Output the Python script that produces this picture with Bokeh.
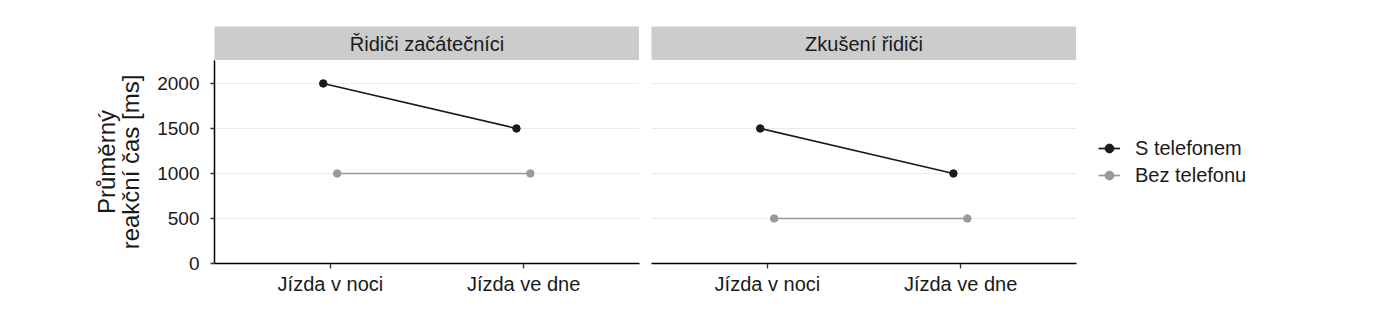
from bokeh.plotting import figure
from bokeh.layouts import row, column
from bokeh.models import FixedTicker, Legend, LegendItem, ColumnDataSource
from bokeh.core.properties import value
from bokeh.embed import file_html
from bokeh.resources import INLINE

# ---- data ----
panels = ["Řidiči začátečníci", "Zkušení řidiči"]
conditions = ["Jízda v noci", "Jízda ve dne"]
series = ["S telefonem", "Bez telefonu"]
values = {
    "Řidiči začátečníci": {"S telefonem": [2000, 1500], "Bez telefonu": [1000, 1000]},
    "Zkušení řidiči": {"S telefonem": [1500, 1000], "Bez telefonu": [500, 500]},
}
y_ticks = [0, 500, 1000, 1500, 2000]
y_label = "Průměrný\nreakční čas [ms]"

# ---- style ----
colors = {"S telefonem": "#1a1a1a", "Bez telefonu": "#999999"}
dodge = {"S telefonem": -0.037, "Bez telefonu": 0.035}
FONT = "Liberation Sans"
TXT = "#1a1a1a"
Y_MAX = 2255
FRAME_W, FRAME_H = 425, 203
STRIP_H = 34
X0, X1 = 0.4, len(conditions) + 0.6

cols = []
renderers = {s: [] for s in series}
for i, panel in enumerate(panels):
    first = i == 0
    left_b = 214 if first else 6

    # strip (facet label)
    s_fig = figure(
        frame_width=FRAME_W, frame_height=STRIP_H,
        min_border_left=left_b, min_border_right=0,
        min_border_top=26, min_border_bottom=0,
        x_range=(0, 1), y_range=(0, 1),
        output_backend="svg", toolbar_location=None,
    )
    s_fig.axis.visible = False
    s_fig.grid.visible = False
    s_fig.outline_line_color = None
    s_fig.background_fill_color = "#cccccc"
    s_fig.border_fill_color = "white"
    s_fig.text(x=[0.5], y=[0.5], text=[panel],
               text_align="center", text_baseline="middle",
               text_font_size="20px", text_font=value(FONT), text_color=TXT)

    p = figure(
        frame_width=FRAME_W,
        frame_height=FRAME_H,
        min_border_left=left_b,
        min_border_right=6 if first else 10,
        min_border_top=0,
        min_border_bottom=62,
        x_range=(X0, X1),
        y_range=(0, Y_MAX),
        output_backend="svg",
        toolbar_location=None,
    )
    p.outline_line_color = None
    p.background_fill_color = "white"
    p.border_fill_color = "white"

    # grid
    p.xgrid.visible = False
    p.ygrid.ticker = FixedTicker(ticks=y_ticks)
    p.ygrid.grid_line_color = "#ebebeb"
    p.ygrid.grid_line_width = 1

    # x axis
    p.xaxis.ticker = FixedTicker(ticks=list(range(1, len(conditions) + 1)))
    p.xaxis.major_label_overrides = {k + 1: c for k, c in enumerate(conditions)}
    p.xaxis.major_label_text_font = FONT
    p.xaxis.major_label_text_font_size = "20px"
    p.xaxis.major_label_text_color = TXT
    p.xaxis.major_tick_in = 0
    p.xaxis.major_tick_out = 5
    p.xaxis.minor_tick_line_color = None
    p.xaxis.axis_line_color = "black"
    p.xaxis.axis_line_width = 1.5
    p.xaxis.major_tick_line_color = "#333333"
    p.xaxis.major_tick_line_width = 1.3
    p.xaxis.major_label_standoff = 4

    # y axis
    p.yaxis.ticker = FixedTicker(ticks=y_ticks)
    if first:
        p.yaxis.axis_label = y_label
        p.yaxis.axis_label_text_font = FONT
        p.yaxis.axis_label_text_font_size = "24px"
        p.yaxis.axis_label_text_font_style = "normal"
        p.yaxis.axis_label_text_color = TXT
        p.yaxis.axis_label_text_line_height = 0.9
        p.yaxis.axis_label_standoff = 10
        p.yaxis.major_label_text_font = FONT
        p.yaxis.major_label_text_font_size = "19px"
        p.yaxis.major_label_text_color = TXT
        p.yaxis.major_tick_in = 0
        p.yaxis.major_tick_out = 4
        p.yaxis.minor_tick_line_color = None
        p.yaxis.axis_line_color = "black"
        p.yaxis.axis_line_width = 1.5
        p.yaxis.major_tick_line_color = "#333333"
        p.yaxis.major_tick_line_width = 1.3
        p.yaxis.major_label_standoff = 11
    else:
        p.yaxis.visible = False

    for s in series:
        xs = [k + 1 + dodge[s] for k in range(len(conditions))]
        src = ColumnDataSource(dict(x=xs, y=values[panel][s]))
        l = p.line("x", "y", source=src, line_color=colors[s], line_width=1.7)
        c = p.scatter("x", "y", source=src, size=7.5, fill_color=colors[s], line_color=colors[s])
        if not first:
            renderers[s] = [l, c]

    if not first:
        legend = Legend(
            items=[LegendItem(label=s, renderers=renderers[s]) for s in series],
            location="center_left",
            label_text_font=FONT,
            label_text_font_size="20px",
            label_text_color=TXT,
            glyph_width=22,
            glyph_height=22,
            label_height=22,
            spacing=4,
            label_standoff=15,
            padding=5,
            margin=22,
            border_line_color=None,
            background_fill_alpha=0,
        )
        p.add_layout(legend, "right")

    cols.append(column(s_fig, p, spacing=0))

layout = row(*cols, spacing=0)
open("out.html", "w").write(file_html(layout, INLINE))
